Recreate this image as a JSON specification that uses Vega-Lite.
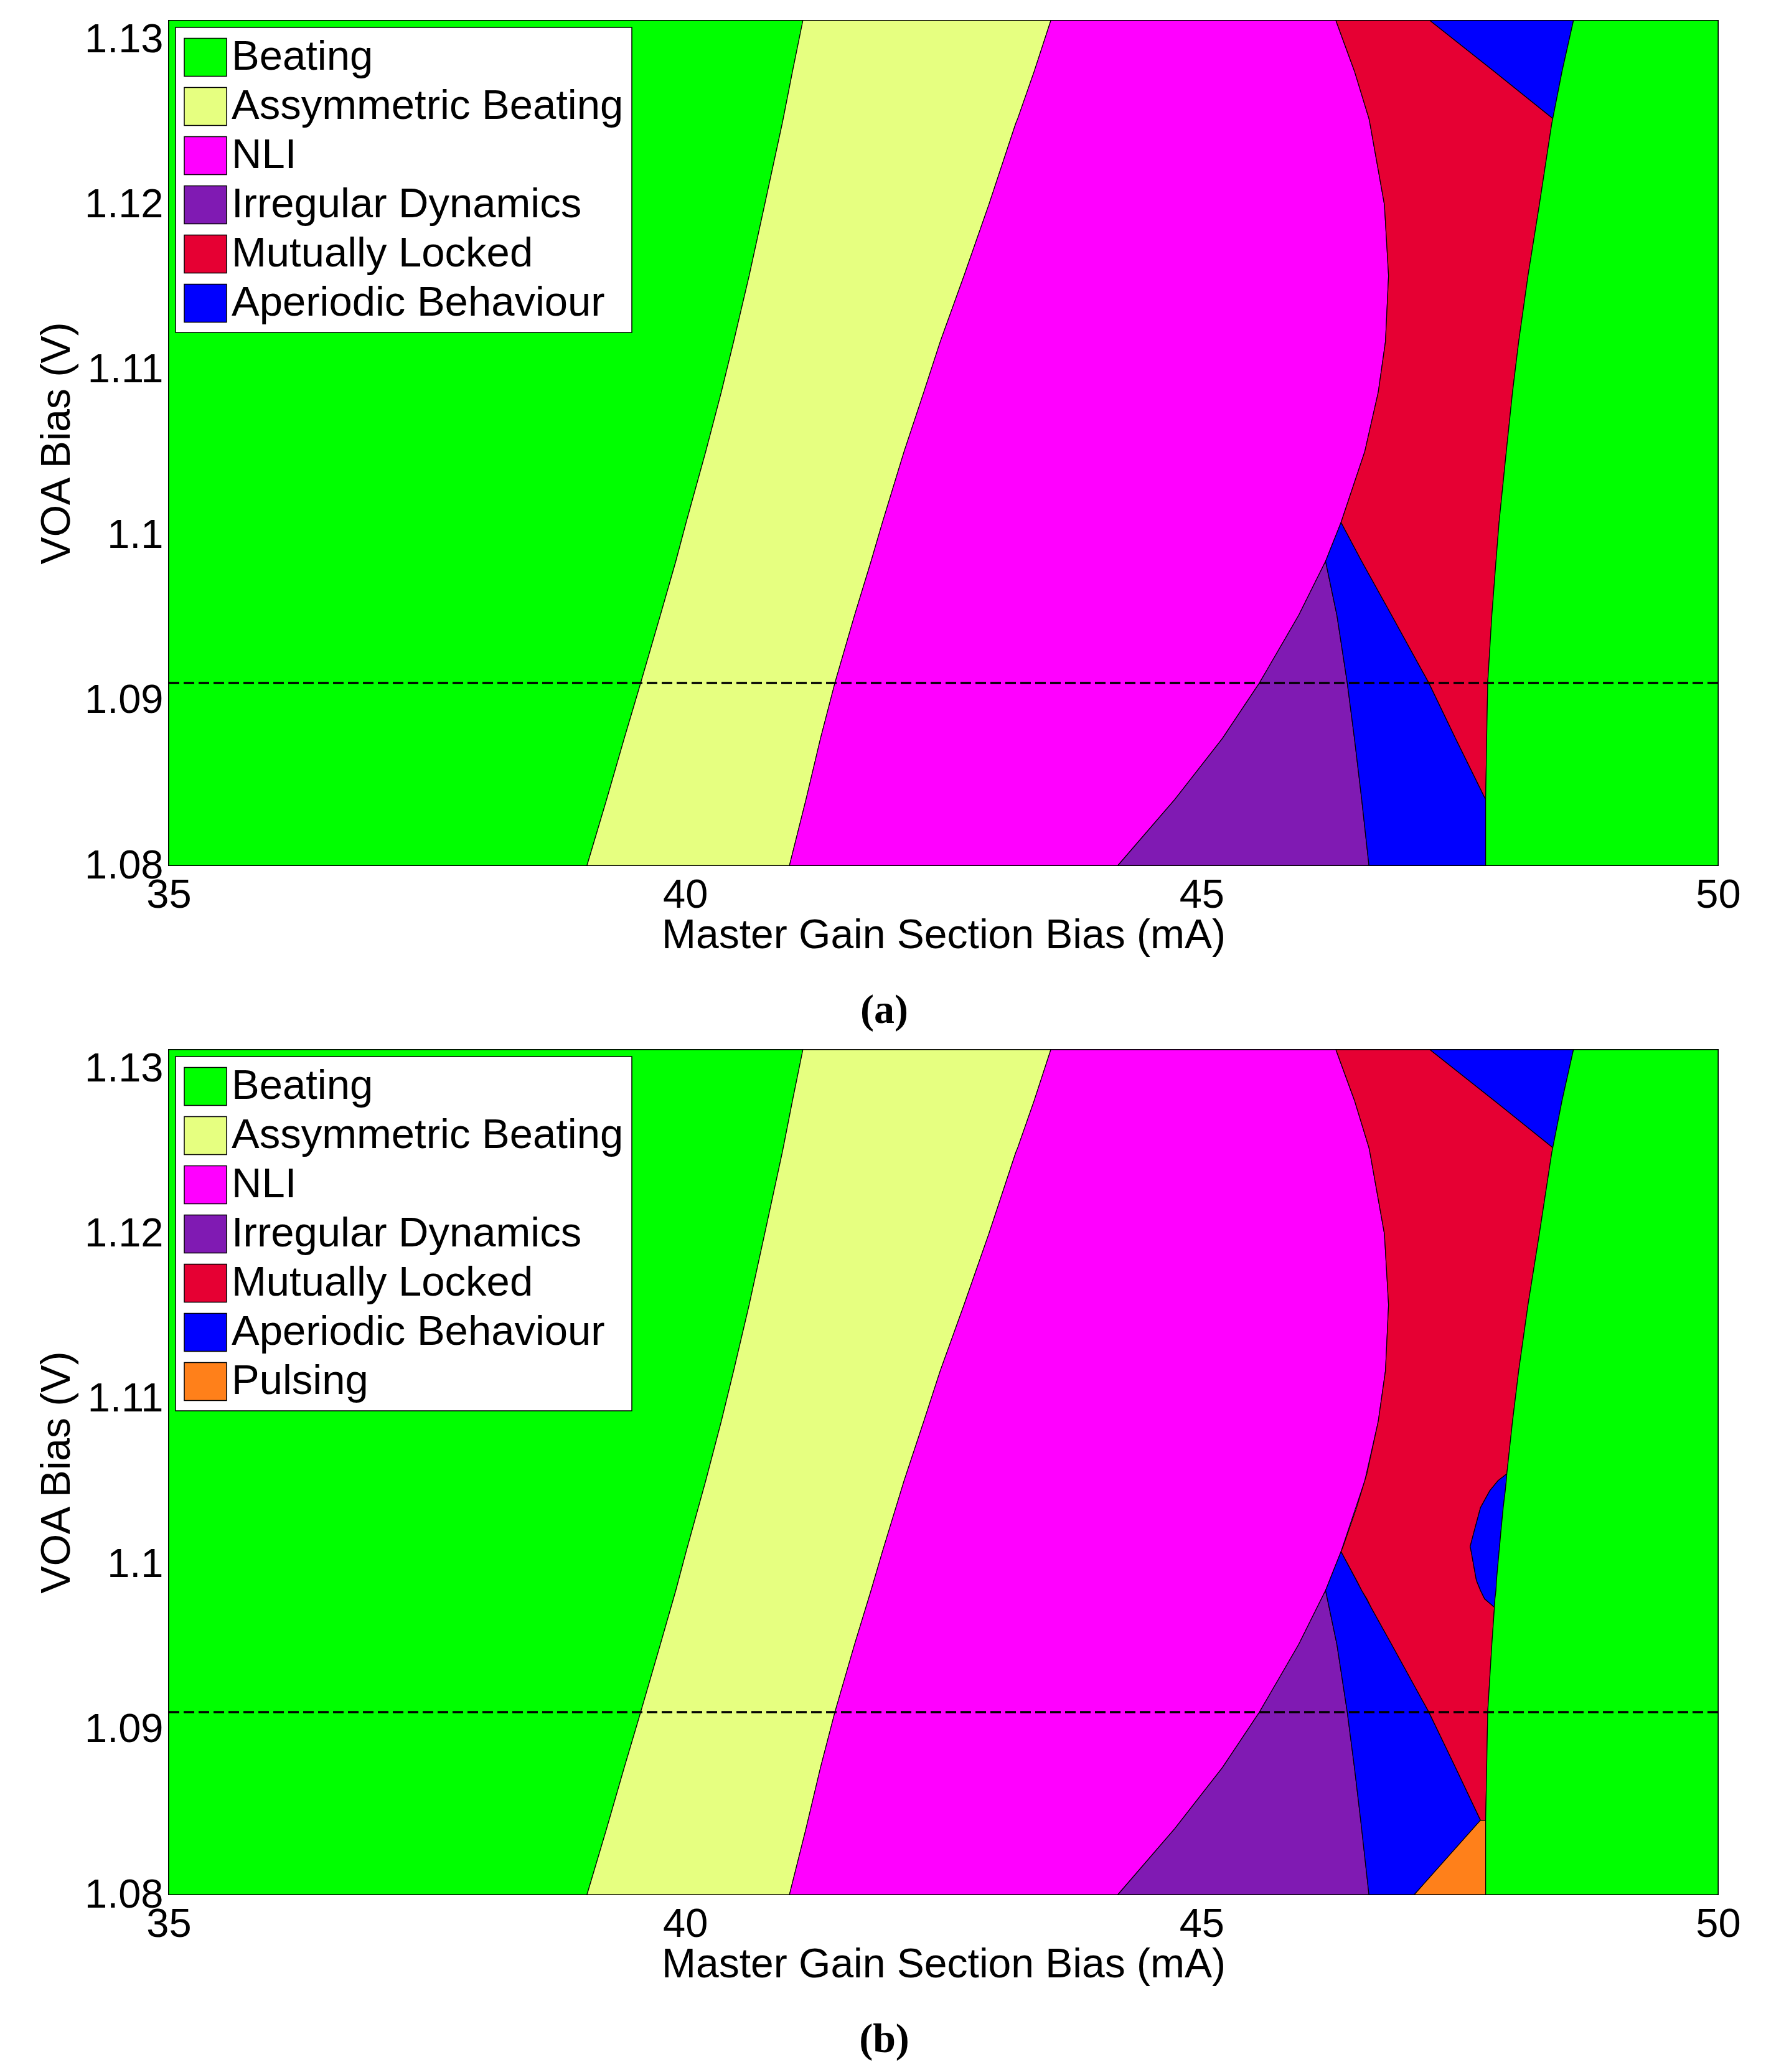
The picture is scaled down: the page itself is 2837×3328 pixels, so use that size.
{
  "$schema": "https://vega.github.io/schema/vega-lite/v6.json",
  "background": "white",
  "padding": {"left": 57, "top": 29, "right": 0, "bottom": 0},
  "config": {
    "view": {"stroke": "black", "strokeWidth": 2},
    "font": "Liberation Sans",
    "axis": {"grid": false, "ticks": false, "domain": false, "labelFlush": false, "labelFont": "Liberation Sans", "labelFontSize": 65, "labelColor": "black", "titleFont": "Liberation Sans", "titleFontSize": 66, "titleFontWeight": "normal", "titleColor": "black"},
    "axisX": {"labelPadding": 16, "titlePadding": 0},
    "axisY": {"labelPadding": 9, "titlePadding": 10},
    "legend": {"orient": "top-left", "offset": 11, "padding": 13, "rowPadding": 10, "labelOffset": 7, "labelFont": "Liberation Sans", "labelFontSize": 67, "labelColor": "black", "labelLimit": 0, "symbolType": "M-1,-0.9H1V0.9H-1Z", "symbolSize": 4624, "symbolStrokeColor": "black", "symbolStrokeWidth": 1.5, "symbolOpacity": 1, "strokeColor": "black", "strokeWidth": 1.5, "fillColor": "white"},
    "title": {"font": "Liberation Serif", "fontSize": 66, "fontWeight": "bold", "color": "black", "orient": "bottom", "anchor": "middle", "offset": 56, "dx": -95}
  },
  "datasets": {
    "ref": [{"v": 1.0908}],
    "common": [
      {"k": "c1", "r": "Beating", "v": 1.08, "x0": 35, "x1": 39.05},
      {"k": "c1", "r": "Beating", "v": 1.0839, "x0": 35, "x1": 39.24},
      {"k": "c1", "r": "Beating", "v": 1.0875, "x0": 35, "x1": 39.41},
      {"k": "c1", "r": "Beating", "v": 1.0908, "x0": 35, "x1": 39.57},
      {"k": "c1", "r": "Beating", "v": 1.0948, "x0": 35, "x1": 39.76},
      {"k": "c1", "r": "Beating", "v": 1.098, "x0": 35, "x1": 39.91},
      {"k": "c1", "r": "Beating", "v": 1.1003, "x0": 35, "x1": 40.01},
      {"k": "c1", "r": "Beating", "v": 1.1045, "x0": 35, "x1": 40.2},
      {"k": "c1", "r": "Beating", "v": 1.108, "x0": 35, "x1": 40.35},
      {"k": "c1", "r": "Beating", "v": 1.111, "x0": 35, "x1": 40.47},
      {"k": "c1", "r": "Beating", "v": 1.1149, "x0": 35, "x1": 40.62},
      {"k": "c1", "r": "Beating", "v": 1.1191, "x0": 35, "x1": 40.77},
      {"k": "c1", "r": "Beating", "v": 1.1239, "x0": 35, "x1": 40.94},
      {"k": "c1", "r": "Beating", "v": 1.1242, "x0": 35, "x1": 40.95},
      {"k": "c1", "r": "Beating", "v": 1.127, "x0": 35, "x1": 41.04},
      {"k": "c1", "r": "Beating", "v": 1.13, "x0": 35, "x1": 41.14},
      {"k": "c2", "r": "Assymmetric Beating", "v": 1.08, "x0": 39.05, "x1": 41.01},
      {"k": "c2", "r": "Assymmetric Beating", "v": 1.0839, "x0": 39.24, "x1": 41.17},
      {"k": "c2", "r": "Assymmetric Beating", "v": 1.0875, "x0": 39.41, "x1": 41.31},
      {"k": "c2", "r": "Assymmetric Beating", "v": 1.0908, "x0": 39.57, "x1": 41.45},
      {"k": "c2", "r": "Assymmetric Beating", "v": 1.0948, "x0": 39.76, "x1": 41.64},
      {"k": "c2", "r": "Assymmetric Beating", "v": 1.098, "x0": 39.91, "x1": 41.8},
      {"k": "c2", "r": "Assymmetric Beating", "v": 1.1003, "x0": 40.01, "x1": 41.91},
      {"k": "c2", "r": "Assymmetric Beating", "v": 1.1045, "x0": 40.2, "x1": 42.12},
      {"k": "c2", "r": "Assymmetric Beating", "v": 1.108, "x0": 40.35, "x1": 42.31},
      {"k": "c2", "r": "Assymmetric Beating", "v": 1.111, "x0": 40.47, "x1": 42.47},
      {"k": "c2", "r": "Assymmetric Beating", "v": 1.1149, "x0": 40.62, "x1": 42.7},
      {"k": "c2", "r": "Assymmetric Beating", "v": 1.1191, "x0": 40.77, "x1": 42.94},
      {"k": "c2", "r": "Assymmetric Beating", "v": 1.1239, "x0": 40.94, "x1": 43.2},
      {"k": "c2", "r": "Assymmetric Beating", "v": 1.1242, "x0": 40.95, "x1": 43.22},
      {"k": "c2", "r": "Assymmetric Beating", "v": 1.127, "x0": 41.04, "x1": 43.38},
      {"k": "c2", "r": "Assymmetric Beating", "v": 1.13, "x0": 41.14, "x1": 43.54},
      {"k": "c3", "r": "NLI", "v": 1.08, "x0": 41.01, "x1": 44.19},
      {"k": "c3", "r": "NLI", "v": 1.0839, "x0": 41.17, "x1": 44.74},
      {"k": "c3", "r": "NLI", "v": 1.0875, "x0": 41.31, "x1": 45.2},
      {"k": "c3", "r": "NLI", "v": 1.0908, "x0": 41.45, "x1": 45.56},
      {"k": "c3", "r": "NLI", "v": 1.0948, "x0": 41.64, "x1": 45.94},
      {"k": "c3", "r": "NLI", "v": 1.098, "x0": 41.8, "x1": 46.2},
      {"k": "c3", "r": "NLI", "v": 1.1003, "x0": 41.91, "x1": 46.35},
      {"k": "c3", "r": "NLI", "v": 1.1045, "x0": 42.12, "x1": 46.58},
      {"k": "c3", "r": "NLI", "v": 1.108, "x0": 42.31, "x1": 46.71},
      {"k": "c3", "r": "NLI", "v": 1.111, "x0": 42.47, "x1": 46.78},
      {"k": "c3", "r": "NLI", "v": 1.1149, "x0": 42.7, "x1": 46.81},
      {"k": "c3", "r": "NLI", "v": 1.1191, "x0": 42.94, "x1": 46.77},
      {"k": "c3", "r": "NLI", "v": 1.1239, "x0": 43.2, "x1": 46.63},
      {"k": "c3", "r": "NLI", "v": 1.1242, "x0": 43.22, "x1": 46.62},
      {"k": "c3", "r": "NLI", "v": 1.127, "x0": 43.38, "x1": 46.48},
      {"k": "c3", "r": "NLI", "v": 1.13, "x0": 43.54, "x1": 46.3},
      {"k": "c4", "r": "Irregular Dynamics", "v": 1.08, "x0": 44.19, "x1": 46.62},
      {"k": "c4", "r": "Irregular Dynamics", "v": 1.0839, "x0": 44.74, "x1": 46.55},
      {"k": "c4", "r": "Irregular Dynamics", "v": 1.0875, "x0": 45.2, "x1": 46.48},
      {"k": "c4", "r": "Irregular Dynamics", "v": 1.0908, "x0": 45.56, "x1": 46.41},
      {"k": "c4", "r": "Irregular Dynamics", "v": 1.0948, "x0": 45.94, "x1": 46.31},
      {"k": "c4", "r": "Irregular Dynamics", "v": 1.098, "x0": 46.2, "x1": 46.2},
      {"k": "c5", "r": "Aperiodic Behaviour", "v": 1.1242, "x0": 48.4, "x1": 48.4},
      {"k": "c5", "r": "Aperiodic Behaviour", "v": 1.127, "x0": 47.83, "x1": 48.49},
      {"k": "c5", "r": "Aperiodic Behaviour", "v": 1.13, "x0": 47.21, "x1": 48.6}
    ],
    "pa": [
      {"k": "a1", "r": "Aperiodic Behaviour", "v": 1.08, "x0": 46.62, "x1": 47.75},
      {"k": "a1", "r": "Aperiodic Behaviour", "v": 1.0839, "x0": 46.55, "x1": 47.75},
      {"k": "a1", "r": "Aperiodic Behaviour", "v": 1.0875, "x0": 46.48, "x1": 47.46},
      {"k": "a1", "r": "Aperiodic Behaviour", "v": 1.0908, "x0": 46.41, "x1": 47.2},
      {"k": "a1", "r": "Aperiodic Behaviour", "v": 1.0948, "x0": 46.31, "x1": 46.84},
      {"k": "a1", "r": "Aperiodic Behaviour", "v": 1.098, "x0": 46.2, "x1": 46.55},
      {"k": "a1", "r": "Aperiodic Behaviour", "v": 1.1003, "x0": 46.35, "x1": 46.35},
      {"k": "a2", "r": "Mutually Locked", "v": 1.0839, "x0": 47.75, "x1": 47.75},
      {"k": "a2", "r": "Mutually Locked", "v": 1.0875, "x0": 47.46, "x1": 47.76},
      {"k": "a2", "r": "Mutually Locked", "v": 1.0908, "x0": 47.2, "x1": 47.77},
      {"k": "a2", "r": "Mutually Locked", "v": 1.0948, "x0": 46.84, "x1": 47.81},
      {"k": "a2", "r": "Mutually Locked", "v": 1.098, "x0": 46.55, "x1": 47.85},
      {"k": "a2", "r": "Mutually Locked", "v": 1.1003, "x0": 46.35, "x1": 47.88},
      {"k": "a2", "r": "Mutually Locked", "v": 1.1045, "x0": 46.58, "x1": 47.95},
      {"k": "a2", "r": "Mutually Locked", "v": 1.108, "x0": 46.71, "x1": 48.01},
      {"k": "a2", "r": "Mutually Locked", "v": 1.111, "x0": 46.78, "x1": 48.07},
      {"k": "a2", "r": "Mutually Locked", "v": 1.1149, "x0": 46.81, "x1": 48.16},
      {"k": "a2", "r": "Mutually Locked", "v": 1.1191, "x0": 46.77, "x1": 48.27},
      {"k": "a2", "r": "Mutually Locked", "v": 1.1239, "x0": 46.63, "x1": 48.39},
      {"k": "a2", "r": "Mutually Locked", "v": 1.1242, "x0": 46.62, "x1": 48.4},
      {"k": "a2", "r": "Mutually Locked", "v": 1.127, "x0": 46.48, "x1": 47.83},
      {"k": "a2", "r": "Mutually Locked", "v": 1.13, "x0": 46.3, "x1": 47.21},
      {"k": "a3", "r": "Beating", "v": 1.08, "x0": 47.75, "x1": 50},
      {"k": "a3", "r": "Beating", "v": 1.0839, "x0": 47.75, "x1": 50},
      {"k": "a3", "r": "Beating", "v": 1.0875, "x0": 47.76, "x1": 50},
      {"k": "a3", "r": "Beating", "v": 1.0908, "x0": 47.77, "x1": 50},
      {"k": "a3", "r": "Beating", "v": 1.0948, "x0": 47.81, "x1": 50},
      {"k": "a3", "r": "Beating", "v": 1.098, "x0": 47.85, "x1": 50},
      {"k": "a3", "r": "Beating", "v": 1.1003, "x0": 47.88, "x1": 50},
      {"k": "a3", "r": "Beating", "v": 1.1045, "x0": 47.95, "x1": 50},
      {"k": "a3", "r": "Beating", "v": 1.108, "x0": 48.01, "x1": 50},
      {"k": "a3", "r": "Beating", "v": 1.111, "x0": 48.07, "x1": 50},
      {"k": "a3", "r": "Beating", "v": 1.1149, "x0": 48.16, "x1": 50},
      {"k": "a3", "r": "Beating", "v": 1.1191, "x0": 48.27, "x1": 50},
      {"k": "a3", "r": "Beating", "v": 1.1239, "x0": 48.39, "x1": 50},
      {"k": "a3", "r": "Beating", "v": 1.1242, "x0": 48.4, "x1": 50},
      {"k": "a3", "r": "Beating", "v": 1.127, "x0": 48.49, "x1": 50},
      {"k": "a3", "r": "Beating", "v": 1.13, "x0": 48.6, "x1": 50}
    ],
    "pb": [
      {"k": "b1", "r": "Aperiodic Behaviour", "v": 1.08, "x0": 46.62, "x1": 47.06},
      {"k": "b1", "r": "Aperiodic Behaviour", "v": 1.0844, "x0": 46.54, "x1": 47.7},
      {"k": "b1", "r": "Aperiodic Behaviour", "v": 1.0875, "x0": 46.48, "x1": 47.46},
      {"k": "b1", "r": "Aperiodic Behaviour", "v": 1.0908, "x0": 46.41, "x1": 47.2},
      {"k": "b1", "r": "Aperiodic Behaviour", "v": 1.0948, "x0": 46.31, "x1": 46.84},
      {"k": "b1", "r": "Aperiodic Behaviour", "v": 1.098, "x0": 46.2, "x1": 46.55},
      {"k": "b1", "r": "Aperiodic Behaviour", "v": 1.1003, "x0": 46.35, "x1": 46.35},
      {"k": "b2", "r": "Pulsing", "v": 1.08, "x0": 47.06, "x1": 47.75},
      {"k": "b2", "r": "Pulsing", "v": 1.0844, "x0": 47.7, "x1": 47.75},
      {"k": "b3", "r": "Mutually Locked", "v": 1.0844, "x0": 47.7, "x1": 47.75},
      {"k": "b3", "r": "Mutually Locked", "v": 1.0875, "x0": 47.46, "x1": 47.76},
      {"k": "b3", "r": "Mutually Locked", "v": 1.0908, "x0": 47.2, "x1": 47.77},
      {"k": "b3", "r": "Mutually Locked", "v": 1.0948, "x0": 46.84, "x1": 47.81},
      {"k": "b3", "r": "Mutually Locked", "v": 1.097, "x0": 46.64, "x1": 47.835},
      {"k": "b3", "r": "Mutually Locked", "v": 1.0975, "x0": 46.6, "x1": 47.74},
      {"k": "b3", "r": "Mutually Locked", "v": 1.098, "x0": 46.55, "x1": 47.7},
      {"k": "b3", "r": "Mutually Locked", "v": 1.0986, "x0": 46.5, "x1": 47.66},
      {"k": "b3", "r": "Mutually Locked", "v": 1.1003, "x0": 46.35, "x1": 47.61},
      {"k": "b3", "r": "Mutually Locked", "v": 1.1006, "x0": 46.37, "x1": 47.6},
      {"k": "b3", "r": "Mutually Locked", "v": 1.1013, "x0": 46.41, "x1": 47.63},
      {"k": "b3", "r": "Mutually Locked", "v": 1.1029, "x0": 46.5, "x1": 47.7},
      {"k": "b3", "r": "Mutually Locked", "v": 1.1039, "x0": 46.55, "x1": 47.79},
      {"k": "b3", "r": "Mutually Locked", "v": 1.1045, "x0": 46.58, "x1": 47.87},
      {"k": "b3", "r": "Mutually Locked", "v": 1.1049, "x0": 46.6, "x1": 47.955},
      {"k": "b3", "r": "Mutually Locked", "v": 1.108, "x0": 46.71, "x1": 48.01},
      {"k": "b3", "r": "Mutually Locked", "v": 1.111, "x0": 46.78, "x1": 48.07},
      {"k": "b3", "r": "Mutually Locked", "v": 1.1149, "x0": 46.81, "x1": 48.16},
      {"k": "b3", "r": "Mutually Locked", "v": 1.1191, "x0": 46.77, "x1": 48.27},
      {"k": "b3", "r": "Mutually Locked", "v": 1.1239, "x0": 46.63, "x1": 48.39},
      {"k": "b3", "r": "Mutually Locked", "v": 1.1242, "x0": 46.62, "x1": 48.4},
      {"k": "b3", "r": "Mutually Locked", "v": 1.127, "x0": 46.48, "x1": 47.83},
      {"k": "b3", "r": "Mutually Locked", "v": 1.13, "x0": 46.3, "x1": 47.21},
      {"k": "b4", "r": "Aperiodic Behaviour", "v": 1.097, "x0": 47.835, "x1": 47.835},
      {"k": "b4", "r": "Aperiodic Behaviour", "v": 1.0975, "x0": 47.74, "x1": 47.84},
      {"k": "b4", "r": "Aperiodic Behaviour", "v": 1.098, "x0": 47.7, "x1": 47.85},
      {"k": "b4", "r": "Aperiodic Behaviour", "v": 1.0986, "x0": 47.66, "x1": 47.855},
      {"k": "b4", "r": "Aperiodic Behaviour", "v": 1.1003, "x0": 47.61, "x1": 47.88},
      {"k": "b4", "r": "Aperiodic Behaviour", "v": 1.1006, "x0": 47.6, "x1": 47.885},
      {"k": "b4", "r": "Aperiodic Behaviour", "v": 1.1013, "x0": 47.63, "x1": 47.895},
      {"k": "b4", "r": "Aperiodic Behaviour", "v": 1.1029, "x0": 47.7, "x1": 47.92},
      {"k": "b4", "r": "Aperiodic Behaviour", "v": 1.1039, "x0": 47.79, "x1": 47.94},
      {"k": "b4", "r": "Aperiodic Behaviour", "v": 1.1045, "x0": 47.87, "x1": 47.95},
      {"k": "b4", "r": "Aperiodic Behaviour", "v": 1.1049, "x0": 47.955, "x1": 47.955},
      {"k": "b5", "r": "Beating", "v": 1.08, "x0": 47.75, "x1": 50},
      {"k": "b5", "r": "Beating", "v": 1.0839, "x0": 47.75, "x1": 50},
      {"k": "b5", "r": "Beating", "v": 1.0844, "x0": 47.75, "x1": 50},
      {"k": "b5", "r": "Beating", "v": 1.0875, "x0": 47.76, "x1": 50},
      {"k": "b5", "r": "Beating", "v": 1.0908, "x0": 47.77, "x1": 50},
      {"k": "b5", "r": "Beating", "v": 1.0948, "x0": 47.81, "x1": 50},
      {"k": "b5", "r": "Beating", "v": 1.097, "x0": 47.835, "x1": 50},
      {"k": "b5", "r": "Beating", "v": 1.0975, "x0": 47.84, "x1": 50},
      {"k": "b5", "r": "Beating", "v": 1.098, "x0": 47.85, "x1": 50},
      {"k": "b5", "r": "Beating", "v": 1.0986, "x0": 47.855, "x1": 50},
      {"k": "b5", "r": "Beating", "v": 1.1003, "x0": 47.88, "x1": 50},
      {"k": "b5", "r": "Beating", "v": 1.1006, "x0": 47.885, "x1": 50},
      {"k": "b5", "r": "Beating", "v": 1.1013, "x0": 47.895, "x1": 50},
      {"k": "b5", "r": "Beating", "v": 1.1029, "x0": 47.92, "x1": 50},
      {"k": "b5", "r": "Beating", "v": 1.1039, "x0": 47.94, "x1": 50},
      {"k": "b5", "r": "Beating", "v": 1.1045, "x0": 47.95, "x1": 50},
      {"k": "b5", "r": "Beating", "v": 1.1049, "x0": 47.955, "x1": 50},
      {"k": "b5", "r": "Beating", "v": 1.108, "x0": 48.01, "x1": 50},
      {"k": "b5", "r": "Beating", "v": 1.111, "x0": 48.07, "x1": 50},
      {"k": "b5", "r": "Beating", "v": 1.1149, "x0": 48.16, "x1": 50},
      {"k": "b5", "r": "Beating", "v": 1.1191, "x0": 48.27, "x1": 50},
      {"k": "b5", "r": "Beating", "v": 1.1239, "x0": 48.39, "x1": 50},
      {"k": "b5", "r": "Beating", "v": 1.1242, "x0": 48.4, "x1": 50},
      {"k": "b5", "r": "Beating", "v": 1.127, "x0": 48.49, "x1": 50},
      {"k": "b5", "r": "Beating", "v": 1.13, "x0": 48.6, "x1": 50}
    ]
  },
  "spacing": 25,
  "resolve": {"scale": {"color": "independent"}, "legend": {"color": "independent"}},
  "vconcat": [
    {
      "width": 2489,
      "height": 1357,
      "title": {"text": "(a)"},
      "layer": [
        {
          "data": {"name": "common"},
          "mark": {"type": "area", "orient": "horizontal", "stroke": "black", "strokeWidth": 1.2, "opacity": 1},
          "encoding": {
            "y": {"field": "v", "type": "quantitative", "title": "VOA Bias (V)", "scale": {"domain": [1.08, 1.13], "nice": false, "zero": false}, "axis": {"values": [1.08, 1.09, 1.1, 1.11, 1.12, 1.13], "format": ".3~g", "labelOffset": {"expr": "(datum.value - 1.08) * 600"}}},
            "x": {"field": "x0", "type": "quantitative", "stack": null, "title": "Master Gain Section Bias (mA)", "scale": {"domain": [35, 50], "nice": false, "zero": false}, "axis": {"values": [35, 40, 45, 50], "format": "d"}},
            "x2": {"field": "x1"},
            "detail": {"field": "k"},
            "color": {"field": "r", "type": "nominal", "legend": {"title": null}, "scale": {"domain": ["Beating", "Assymmetric Beating", "NLI", "Irregular Dynamics", "Mutually Locked", "Aperiodic Behaviour"], "range": ["#00FF00", "#E6FF80", "#FF00FF", "#801AB3", "#E60033", "#0000FF"]}}
          }
        },
        {
          "data": {"name": "pa"},
          "mark": {"type": "area", "orient": "horizontal", "stroke": "black", "strokeWidth": 1.2, "opacity": 1},
          "encoding": {
            "y": {"field": "v", "type": "quantitative", "title": "VOA Bias (V)"},
            "x": {"field": "x0", "type": "quantitative", "stack": null, "title": "Master Gain Section Bias (mA)"},
            "x2": {"field": "x1"},
            "detail": {"field": "k"},
            "color": {"field": "r", "type": "nominal", "legend": {"title": null}}
          }
        },
        {
          "data": {"name": "ref"},
          "mark": {"type": "rule", "color": "black", "strokeWidth": 3.5, "strokeDash": [17, 7]},
          "encoding": {"y": {"field": "v", "type": "quantitative", "title": "VOA Bias (V)"}}
        }
      ]
    },
    {
      "width": 2489,
      "height": 1357,
      "title": {"text": "(b)"},
      "layer": [
        {
          "data": {"name": "common"},
          "mark": {"type": "area", "orient": "horizontal", "stroke": "black", "strokeWidth": 1.2, "opacity": 1},
          "encoding": {
            "y": {"field": "v", "type": "quantitative", "title": "VOA Bias (V)", "scale": {"domain": [1.08, 1.13], "nice": false, "zero": false}, "axis": {"values": [1.08, 1.09, 1.1, 1.11, 1.12, 1.13], "format": ".3~g", "labelOffset": {"expr": "(datum.value - 1.08) * 600"}}},
            "x": {"field": "x0", "type": "quantitative", "stack": null, "title": "Master Gain Section Bias (mA)", "scale": {"domain": [35, 50], "nice": false, "zero": false}, "axis": {"values": [35, 40, 45, 50], "format": "d"}},
            "x2": {"field": "x1"},
            "detail": {"field": "k"},
            "color": {"field": "r", "type": "nominal", "legend": {"title": null}, "scale": {"domain": ["Beating", "Assymmetric Beating", "NLI", "Irregular Dynamics", "Mutually Locked", "Aperiodic Behaviour", "Pulsing"], "range": ["#00FF00", "#E6FF80", "#FF00FF", "#801AB3", "#E60033", "#0000FF", "#FF801A"]}}
          }
        },
        {
          "data": {"name": "pb"},
          "mark": {"type": "area", "orient": "horizontal", "stroke": "black", "strokeWidth": 1.2, "opacity": 1},
          "encoding": {
            "y": {"field": "v", "type": "quantitative", "title": "VOA Bias (V)"},
            "x": {"field": "x0", "type": "quantitative", "stack": null, "title": "Master Gain Section Bias (mA)"},
            "x2": {"field": "x1"},
            "detail": {"field": "k"},
            "color": {"field": "r", "type": "nominal", "legend": {"title": null}}
          }
        },
        {
          "data": {"name": "ref"},
          "mark": {"type": "rule", "color": "black", "strokeWidth": 3.5, "strokeDash": [17, 7]},
          "encoding": {"y": {"field": "v", "type": "quantitative", "title": "VOA Bias (V)"}}
        }
      ]
    }
  ]
}
